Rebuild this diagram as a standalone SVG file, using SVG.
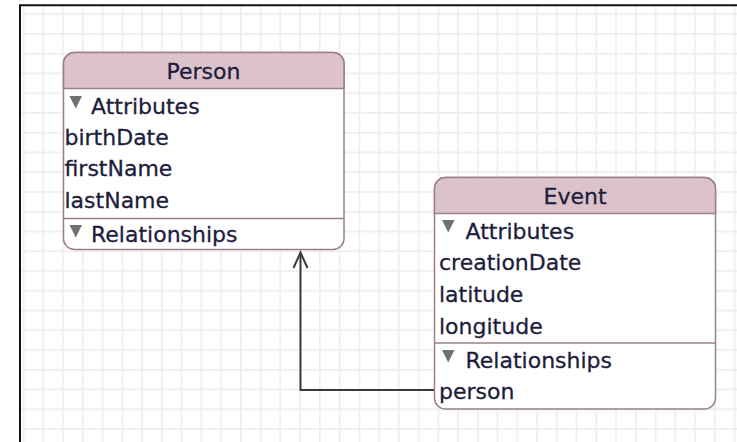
<svg xmlns="http://www.w3.org/2000/svg" width="737" height="442" viewBox="0 0 737 442">
<style>
.box{fill:#ffffff;stroke:#9c7f89;stroke-width:1.5}
.hdr{fill:#dcc3ca;stroke:#9c7f89;stroke-width:1.5}
.div{stroke:#9c7f89;stroke-width:1.5}
.t{font-family:"DejaVu Sans",sans-serif;font-size:22px;fill:#1d1d3d;stroke:#1d1d3d;stroke-width:0.3}
.h{text-anchor:middle}
.tri{fill:#707070}
.conn{fill:none;stroke:#3a3a3a;stroke-width:2}
</style>
<defs>
<pattern id="grid" patternUnits="userSpaceOnUse" x="2.95" y="13.3" width="19.75" height="19.75">
<path d="M0.75,0 V19.75 M0,0.75 H19.75" stroke="#eeeeee" stroke-width="1.8" fill="none"/>
</pattern>
</defs>
<rect x="0" y="0" width="737" height="442" fill="#ffffff"/>
<rect x="21" y="6" width="716" height="436" fill="url(#grid)"/>
<path d="M20,442 V5.3 H737" fill="none" stroke="#111111" stroke-width="2"/>
<g id="connectors">
<path class="conn" d="M434,390 H300.5 V253"/>
<polyline class="conn" points="293.5,268 300.5,252.5 307.5,268"/>
</g>
<g id="person">
<rect class="box" x="63.5" y="52.5" width="280.5" height="197" rx="11"/>
<path class="hdr" d="M63.5,88.5 V63.5 A11,11 0 0 1 74.5,52.5 H333 A11,11 0 0 1 344,63.5 V88.5 Z"/>
<line class="div" x1="63.5" y1="218.5" x2="344" y2="218.5"/>
<text class="t h" x="203.5" y="79">Person</text>
<polygon class="tri" points="69.5,96 82,96 75.75,108.5"/>
<text class="t" x="91" y="114">Attributes</text>
<text class="t" x="64.5" y="144.5">birthDate</text>
<text class="t" x="64.5" y="176">firstName</text>
<text class="t" x="64.5" y="208">lastName</text>
<polygon class="tri" points="69.5,225 82,225 75.75,237.5"/>
<text class="t" x="91" y="241.5">Relationships</text>
</g>
<g id="event">
<rect class="box" x="434.5" y="177.5" width="281" height="231.5" rx="11"/>
<path class="hdr" d="M434.5,213.5 V188.5 A11,11 0 0 1 445.5,177.5 H704.5 A11,11 0 0 1 715.5,188.5 V213.5 Z"/>
<line class="div" x1="434.5" y1="343" x2="715.5" y2="343"/>
<text class="t h" x="575" y="203.5">Event</text>
<polygon class="tri" points="442,220 454.5,220 448.25,232.5"/>
<text class="t" x="465.5" y="238.5">Attributes</text>
<text class="t" x="439" y="269.5">creationDate</text>
<text class="t" x="439" y="302">latitude</text>
<text class="t" x="439" y="334">longitude</text>
<polygon class="tri" points="442,350 454.5,350 448.25,362.5"/>
<text class="t" x="465.5" y="368">Relationships</text>
<text class="t" x="439" y="398.5">person</text>
</g>
</svg>
